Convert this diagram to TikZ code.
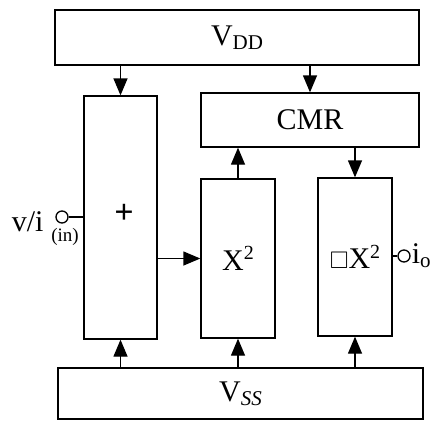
\documentclass[tikz,border=0pt]{standalone}
\usepackage{amssymb}
\usepackage{fontspec}
\setmainfont{Liberation Serif}
\usetikzlibrary{arrows.meta, positioning}

\newcommand{\subtxt}[1]{\raisebox{-0.3ex}{\fontsize{21}{22}\selectfont #1}}
\newcommand{\suptxt}[1]{\raisebox{0.75ex}{\fontsize{20}{22}\selectfont #1}}

\begin{document}
\begin{tikzpicture}[x=1pt, y=-1pt,
    every node/.style={font=\fontsize{30}{34}\selectfont},
    block/.style={draw, line width=1.3pt, inner sep=0pt},
    pin/.style={draw, circle, line width=1.3pt, minimum size=12pt, inner sep=0pt},
    wire/.style={line width=1.3pt},
    arrow/.style={wire, -{Triangle[length=17pt, width=14pt]}}
]
\useasboundingbox (0,0) rectangle (443,421);

% supply rails
\node[block, minimum width=364pt, minimum height=55pt] (vdd) at (237,37.5) {V\subtxt{DD}};
\node[block, minimum width=365pt, minimum height=51pt] (vss) at (240.5,393.5) {V\subtxt{\itshape SS}};

% signal blocks
\node[block, minimum width=73pt, minimum height=243pt] (sum) at (120.5,217.5) {};
\node[font=\fontsize{34}{36}\selectfont] (plus) at (124,214) {\textbf{+}};
\node[block, minimum width=218pt, minimum height=54pt] (cmr) at (310,120) {CMR};
\node[block, minimum width=74pt, minimum height=159pt] (sq) at (238,258.5) {X\suptxt{2}};
\node[block, minimum width=74pt, minimum height=158pt] (sqrt) at (355,257) {{\fontsize{24}{24}\selectfont$\square$}X\suptxt{2}};

% input and output pins
\node[pin] (inpin) at (62,217) {};
\node[anchor=east] (inlbl) at (47,222) {v/i};
\node[font=\fontsize{19}{22}\selectfont] (inidx) at (65,237) {(in)};
\node[pin] (outpin) at (404,256) {};
\node[anchor=west, inner sep=1pt] (outlbl) at (outpin.east) {i\subtxt{o}};

\draw[wire] (inpin) -- (inpin -| sum.west);
\draw[wire] (outpin -| sqrt.east) -- (outpin);

% connections
\draw[arrow] (sum.north |- vdd.south) -- (sum.north);
\draw[arrow] (cmr.north |- vdd.south) -- (cmr.north);
\draw[arrow] (sq.north) -- (sq.north |- cmr.south);
\draw[arrow] (sqrt.north |- cmr.south) -- (sqrt.north);
\draw[arrow] (sq.west -| sum.east) -- (sq.west);
\draw[arrow] (vss.north -| sum.south) -- (sum.south);
\draw[arrow] (vss.north -| sq.south) -- (sq.south);
\draw[arrow] (vss.north -| sqrt.south) -- (sqrt.south);
\end{tikzpicture}
\end{document}
